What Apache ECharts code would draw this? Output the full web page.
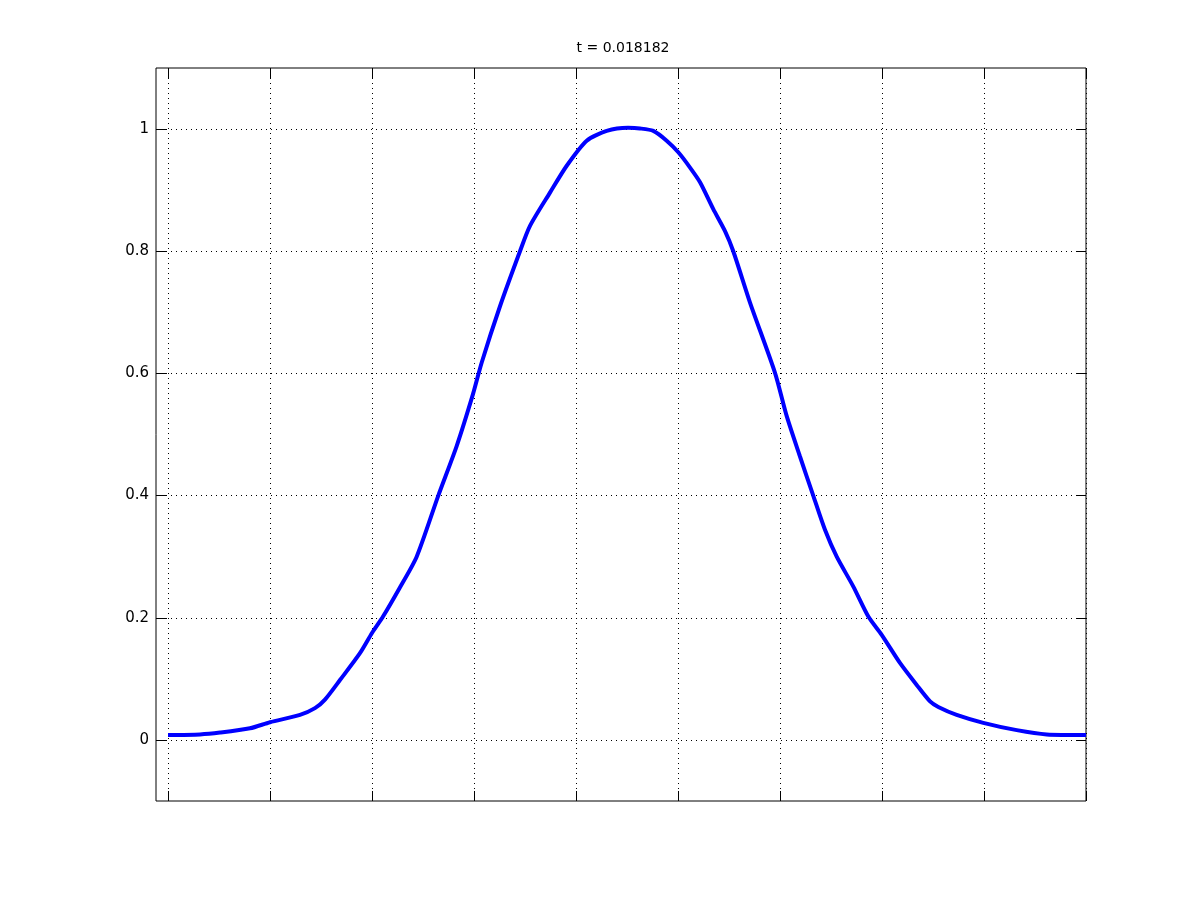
<!DOCTYPE html>
<html>
<head>
<meta charset="utf-8">
<script src="https://cdn.jsdelivr.net/npm/echarts@6/dist/echarts.min.js"></script>
<style>html,body{margin:0;padding:0;background:#fff;}#c{width:1200px;height:900px;}</style>
</head>
<body>
<div id="c"></div>
<script>
const titleText = 't = 0.018182';
const xTicks = [0, 1, 2, 3, 4, 5, 6, 7, 8, 9];
const yTicks = [0, 0.2, 0.4, 0.6, 0.8, 1];
const yTickLabels = ['0', '0.2', '0.4', '0.6', '0.8', '1'];
const xs = [0, 0.314, 0.51, 0.804, 1.0, 1.294, 1.441, 1.539, 1.686, 1.882, 2.0, 2.108, 2.275, 2.438, 2.65, 2.83, 2.99, 3.075, 3.255, 3.451, 3.549, 3.745, 3.909, 4.105, 4.301, 4.51,
  4.627, 4.758, 4.889, 5.003, 5.118, 5.216, 5.346, 5.461, 5.542, 5.706, 5.951, 6.066, 6.196, 6.326, 6.441, 6.556, 6.719, 6.866, 6.997, 7.176, 7.34, 7.471, 7.552, 7.732, 7.993, 8.321, 8.615, 9.0];
const ys = [0.008, 0.009, 0.012, 0.019, 0.029, 0.041, 0.052, 0.066, 0.098, 0.142, 0.175, 0.202, 0.25, 0.30, 0.40, 0.481, 0.566, 0.6175, 0.71, 0.80, 0.8415, 0.896, 0.94, 0.981, 0.997, 1.002,
  1.001, 0.997, 0.981, 0.962, 0.937, 0.913, 0.869, 0.833, 0.80, 0.716, 0.601, 0.53, 0.464, 0.40, 0.344, 0.30, 0.251, 0.202, 0.172, 0.126, 0.090, 0.063, 0.054, 0.041, 0.028, 0.016, 0.009, 0.008];

const chart = echarts.init(document.getElementById('c'), null, {renderer: 'canvas'});
const font = 'DejaVu Sans';
const dotted = {color: '#000', width: 1, type: [1, 4]};
const tickStyle = {color: '#000', width: 1};
chart.setOption({
  animation: false,
  backgroundColor: '#fff',
  title: {
    text: titleText, left: 618, top: 36, textAlign: 'center',
    textStyle: {fontFamily: font, fontSize: 14, fontWeight: 'normal', color: '#000'}
  },
  grid: {left: 156, right: 114, top: 68, bottom: 99, show: true, borderColor: '#000', borderWidth: 1, backgroundColor: 'transparent'},
  xAxis: [{
    type: 'value', min: -0.1176, max: 9, position: 'bottom',
    axisLine: {show: false, onZero: false},
    axisTick: {show: true, inside: true, length: 10, customValues: xTicks, lineStyle: tickStyle},
    axisLabel: {show: false},
    splitLine: {show: true, lineStyle: dotted}
  }, {
    type: 'value', min: -0.1176, max: 9, position: 'top',
    axisLine: {show: false, onZero: false},
    axisTick: {show: true, inside: true, length: 10, customValues: xTicks, lineStyle: tickStyle},
    axisLabel: {show: false},
    splitLine: {show: false}
  }],
  yAxis: [{
    type: 'value', min: -0.1, max: 1.1, position: 'left',
    axisLine: {show: false, onZero: false},
    axisTick: {show: true, inside: true, length: 10, customValues: yTicks, lineStyle: tickStyle},
    axisLabel: {show: true, customValues: yTicks, margin: 7, color: '#000', fontFamily: font, fontSize: 15,
      formatter: v => yTickLabels[yTicks.indexOf(Math.round(v * 10) / 10)] ?? String(v)},
    splitLine: {show: true, lineStyle: dotted}
  }, {
    type: 'value', min: -0.1, max: 1.1, position: 'right',
    axisLine: {show: false, onZero: false},
    axisTick: {show: true, inside: true, length: 10, customValues: yTicks, lineStyle: tickStyle},
    axisLabel: {show: false},
    splitLine: {show: false}
  }],
  series: [{
    type: 'line', xAxisIndex: 0, yAxisIndex: 0,
    data: xs.map((x, i) => [x, ys[i]]),
    showSymbol: false, smooth: 0.25,
    lineStyle: {color: '#0000ff', width: 4}
  }]
});
</script>
</body>
</html>
